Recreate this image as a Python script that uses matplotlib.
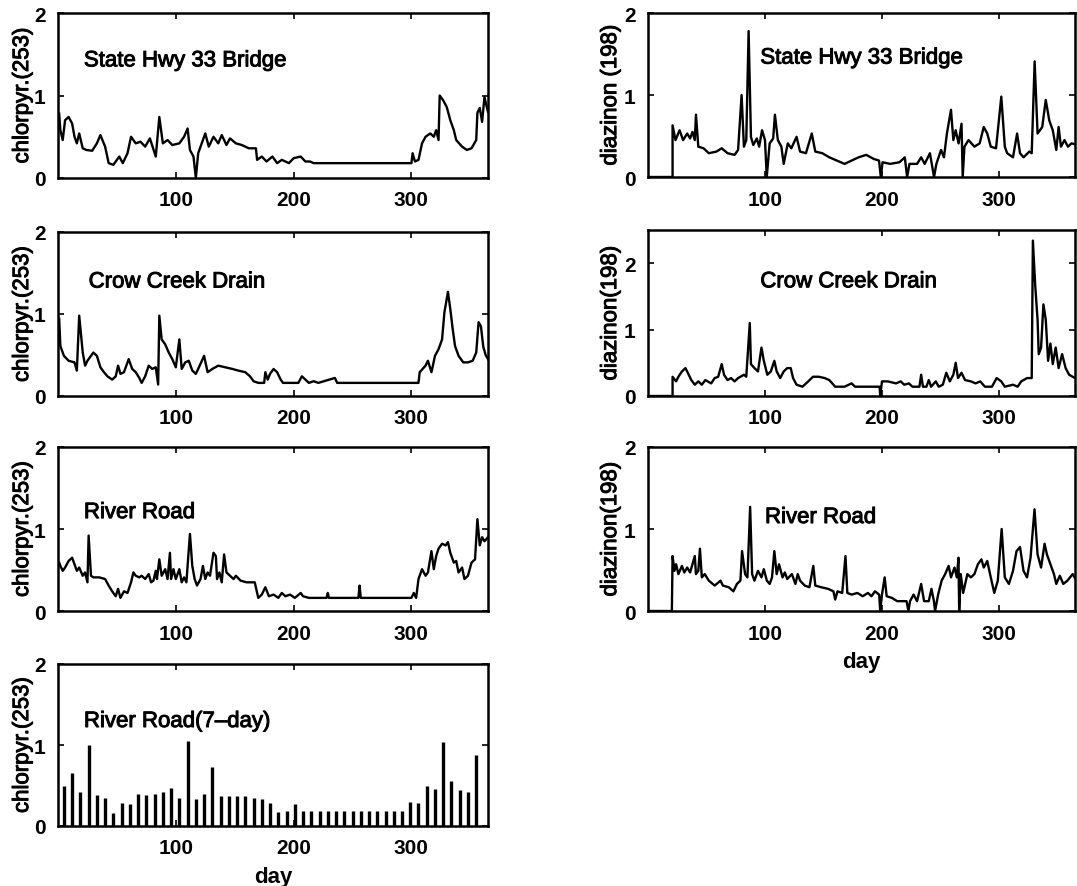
import matplotlib.pyplot as plt
import matplotlib.patheffects as pe

plt.rcParams['font.family'] = ['Liberation Sans', 'DejaVu Sans']

# chlorpyrifos, State Hwy 33 Bridge
hwy_chl_day = [1, 2, 4, 6, 9, 12, 14, 16, 18, 21,
               24, 29, 33, 36, 40, 43, 47, 52, 55, 59,
               62, 66, 70, 74, 78, 83, 86, 89, 93, 97,
               103, 107, 110, 112, 115, 117, 119, 122, 125, 128,
               132, 136, 139, 143, 146, 151, 156, 162, 168, 169,
               173, 177, 182, 186, 190, 196, 200, 206, 210, 214,
               217, 300, 301, 303, 306, 309, 312, 316, 319, 321,
               323, 324, 327, 330, 333, 336, 338, 343, 347, 351,
               355, 356, 358, 360, 362, 365]
hwy_chl_val = [.78, .58, .46, .70, .74, .66, .50, .42, .54, .36,
               .34, .33, .42, .52, .38, .18, .16, .26, .18, .30,
               .50, .42, .44, .38, .48, .26, .74, .42, .46, .40,
               .42, .50, .60, .34, .26, 0, .30, .42, .54, .38,
               .50, .42, .52, .40, .48, .42, .40, .36, .36, .22,
               .26, .20, .26, .18, .22, .18, .24, .26, .20, .20,
               .18, .18, .30, .20, .22, .42, .50, .54, .50, .58,
               .46, 1.0, .94, .86, .70, .58, .46, .38, .34, .36,
               .46, .79, .85, .68, .98, .80]

# diazinon, State Hwy 33 Bridge
hwy_dia_day = [0, 21, 21, 23.5, 27, 30, 33.5, 36, 38, 40,
               41, 43, 47.5, 52, 58.5, 63, 68, 74, 77, 80,
               82, 84, 86, 88, 90, 93, 95, 97.5, 100, 101.5,
               104, 107, 108.5, 111, 114, 116, 119.5, 122.5, 127, 130,
               135, 140, 143, 149, 155, 161.5, 168, 174, 180, 186.5,
               193, 197.5, 199, 200.5, 207, 215, 219.5, 221.5, 223.5, 230,
               233.5, 236.5, 241, 244.5, 246.5, 250.5, 253, 255.5, 259, 261,
               263, 265.5, 268, 269, 270.5, 274, 279, 283.5, 287, 290,
               293, 297.5, 302, 305, 307, 312, 315.5, 318, 321, 326,
               328, 330.5, 333, 337, 340, 343, 346, 349, 351, 353,
               356, 359, 362, 365]
hwy_dia_val = [0, 0, .63, .45, .57, .45, .53, .47, .55, .45,
               .76, .37, .35, .29, .31, .35, .29, .27, .33, 1.0,
               .37, .45, 1.78, .49, .39, .47, .37, .57, .45, 0,
               .41, .47, .76, .45, .37, .16, .41, .35, .49, .31,
               .29, .53, .31, .29, .24, .20, .16, .20, .24, .27,
               .22, .20, 0, .18, .16, .18, .24, 0, .16, .16,
               .24, .16, .29, 0, .16, .33, .24, .53, .82, .45,
               .57, .41, .65, 0, .37, .45, .37, .41, .61, .53,
               .37, .35, .98, .37, .29, .24, .53, .29, .24, .31,
               .29, 1.41, .53, .61, .94, .69, .57, .33, .61, .37,
               .45, .37, .41, .40]

# chlorpyrifos, Crow Creek Drain
crow_chl_day = [1, 2, 5, 9, 14, 16, 18, 21, 23, 25,
                28, 30, 33, 36, 39, 42, 46, 49, 51, 53,
                56, 60, 63, 66, 69, 71, 74, 77, 80, 83,
                85, 86, 88, 91, 94, 97, 100, 103, 105, 108,
                111, 114, 117, 119, 124, 127, 131, 136, 142, 148,
                153, 159, 163, 166, 170, 175, 176, 178, 180, 183,
                186, 189, 191, 204, 207, 210, 213, 217, 221, 235,
                237, 306, 307, 312, 314, 317, 320, 323, 326, 328,
                331, 333, 335, 337, 340, 344, 348, 352, 355, 357,
                359, 361, 363, 365]
crow_chl_val = [.94, .61, .49, .43, .41, .31, .98, .53, .37, .43,
                .49, .53, .49, .35, .29, .24, .20, .24, .37, .27,
                .29, .45, .33, .29, .22, .16, .24, .37, .33, .35,
                .14, .98, .69, .63, .53, .45, .35, .69, .33, .41,
                .43, .31, .27, .33, .49, .29, .33, .37, .35, .33,
                .31, .29, .24, .18, .16, .16, .29, .20, .27, .33,
                .29, .20, .16, .16, .24, .20, .16, .18, .16, .22,
                .16, .16, .29, .37, .43, .29, .49, .57, .69, 1.02,
                1.27, 1.06, .82, .61, .49, .41, .41, .43, .53, .90,
                .85, .60, .50, .45]

# diazinon, Crow Creek Drain
crow_dia_day = [0, 21, 21, 24, 26, 29, 32, 34, 37, 40,
                43, 46, 49, 54, 57, 60, 63, 65, 68, 71,
                74, 77, 82, 84, 87, 88, 91, 94, 97, 99,
                102, 105, 108, 110, 113, 116, 119, 122, 124, 127,
                132, 137, 141, 146, 151, 155, 160, 168, 174, 177,
                198, 198.5, 200, 205, 212, 216, 219, 223, 226, 232,
                233.5, 235, 238, 240, 242, 246, 248.5, 252, 255, 258,
                261, 263, 265, 268, 271, 276, 280, 284, 288, 294,
                298, 302, 305, 312, 316, 319, 324, 328, 329, 331,
                333, 334, 336, 338, 340, 342, 344, 346, 348.5, 351,
                354, 357, 360, 363, 365]
crow_dia_val = [0, 0, .29, .22, .29, .37, .42, .35, .24, .17,
                .22, .17, .24, .19, .27, .29, .48, .32, .24, .27,
                .22, .27, .32, .29, 1.10, .48, .42, .37, .73, .53,
                .32, .37, .53, .37, .27, .37, .42, .42, .27, .17,
                .14, .22, .29, .29, .27, .24, .14, .14, .19, .14,
                .14, 0, .22, .22, .19, .22, .17, .19, .14, .14,
                .32, .14, .14, .24, .14, .22, .14, .17, .35, .22,
                .32, .50, .27, .35, .24, .22, .19, .22, .14, .14,
                .27, .22, .14, .17, .14, .22, .27, .27, 2.34, 1.66,
                1.15, .63, .73, 1.38, 1.15, .53, .79, .48, .73, .42,
                .63, .42, .32, .29, .27]

# chlorpyrifos, River Road
river_chl_day = [1, 2, 4, 6, 9, 12, 14, 16, 18, 21,
                 23, 25, 26, 28, 30, 35, 40, 43, 46, 49,
                 51, 53, 56, 59, 62, 64, 66, 69, 71, 74,
                 77, 79, 81, 83, 84, 86, 88, 91, 93, 95,
                 96, 98, 100, 103, 105, 107, 109, 110, 112, 114,
                 116, 118, 121, 123, 125, 127, 129, 132, 134, 135,
                 137, 139, 141, 143, 146, 149, 151, 155, 160, 167,
                 170, 173, 176, 179, 183, 187, 190, 193, 197, 201,
                 206, 208, 213, 228, 229, 230, 255, 256, 257, 300,
                 302, 304, 306, 309, 312, 314, 317, 319, 321, 323,
                 326, 329, 331, 333, 336, 338, 340, 343, 345, 348,
                 351, 354, 356, 358, 360, 362, 365]
river_chl_val = [.59, .55, .49, .53, .61, .65, .57, .49, .53, .43,
                 .47, .35, .92, .43, .41, .41, .39, .31, .24, .18,
                 .27, .16, .24, .22, .35, .47, .43, .41, .43, .39,
                 .45, .35, .37, .49, .39, .63, .43, .51, .39, .71,
                 .39, .51, .39, .51, .35, .41, .35, .55, .94, .55,
                 .39, .31, .39, .55, .39, .47, .43, .71, .67, .39,
                 .47, .35, .69, .47, .43, .39, .43, .37, .35, .35,
                 .16, .20, .29, .18, .20, .16, .22, .18, .20, .16,
                 .22, .18, .16, .16, .22, .16, .16, .31, .16, .16,
                 .22, .16, .39, .51, .43, .47, .73, .51, .67, .76,
                 .82, .80, .84, .71, .59, .61, .47, .53, .39, .43,
                 .59, .63, 1.12, .80, .90, .85, .90]

# diazinon, River Road
river_dia_day = [0, 20.4, 21, 22.6, 24, 26, 29, 31, 33.5, 36,
                 38, 40, 41, 43, 44.4, 46, 48.5, 52, 57, 62,
                 64, 69, 73, 76, 79, 80.4, 83, 85, 87.3, 89,
                 91, 94, 97, 99, 101.6, 104, 106, 108, 110, 112,
                 115, 117, 119, 123, 126, 128, 130, 134, 138, 141.3,
                 143, 148, 154, 158.5, 160, 162, 166, 168.8, 170.4, 174,
                 179, 183.5, 188, 191, 194, 197.6, 198.5, 200, 202.3, 204,
                 208.5, 213, 221, 222.6, 224, 227, 230, 233.5, 236, 240,
                 242.3, 244.4, 245.4, 248, 251, 254, 257, 259, 262, 264,
                 265.4, 266, 267.3, 269.4, 273, 276, 279, 282, 285, 287,
                 290, 293, 296, 299, 302.3, 305, 308.5, 312, 315, 318,
                 321, 324, 327, 330.4, 333, 336, 339, 341, 344, 347,
                 349, 352, 355, 358.5, 363, 365]
river_dia_val = [0, 0, .67, .49, .57, .45, .55, .47, .53, .47,
                 .57, .67, .45, .49, .76, .41, .45, .37, .31, .37,
                 .31, .29, .24, .33, .37, .73, .45, .41, 1.27, .45,
                 .37, .49, .41, .51, .37, .33, .41, .73, .45, .57,
                 .41, .47, .39, .45, .33, .45, .37, .31, .29, .55,
                 .31, .29, .27, .24, .14, .24, .22, .67, .22, .20,
                 .22, .18, .22, .18, .24, .20, 0, .20, .41, .18,
                 .16, .12, .12, 0, .12, .20, .12, .33, .12, .12,
                 .27, .12, 0, .20, .37, .45, .55, .41, .53, .41,
                 .65, 0, .45, .22, .45, .41, .45, .57, .63, .53,
                 .61, .41, .22, .37, 1.0, .41, .33, .49, .73, .78,
                 .49, .41, .65, 1.24, .69, .53, .82, .69, .57, .45,
                 .33, .43, .33, .37, .45, .40]

# chlorpyrifos, River Road, one sample every 7 days
week_day = [5, 12, 19, 26, 33, 40, 47, 54, 61, 68,
            75, 82, 89, 96, 103, 110, 117, 124, 131, 138,
            145, 152, 159, 166, 173, 180, 187, 194, 201, 208,
            215, 222, 229, 236, 243, 250, 257, 264, 271, 278,
            285, 292, 299, 306, 313, 320, 327, 334, 341, 348,
            355]
week_val = [.50, .65, .42, 1.0, .38, .34, .16, .29, .27, .40,
            .38, .40, .42, .47, .35, 1.05, .33, .40, .73, .37,
            .37, .37, .37, .35, .33, .28, .17, .18, .27, .19,
            .18, .18, .18, .18, .18, .18, .18, .18, .18, .18,
            .18, .18, .30, .29, .49, .46, 1.04, .55, .45, .42,
            .88]

W, H = 1077, 887
LEFT = (58, 430)
RIGHT = (648, 427)
heavy = [pe.withStroke(linewidth=0.7, foreground='black')]


def make_axes(fig, col, top, bottom):
    x0, w = col
    return fig.add_axes([x0 / W, 1 - bottom / H, w / W, (bottom - top) / H])


def style(ax, ylabel, ymax, labx):
    ax.set_xlim(0, 365)
    ax.set_ylim(0, ymax)
    ax.set_xticks([100, 200, 300])
    ax.set_yticks([0, 1, 2])
    ax.tick_params(direction='in', length=4, width=1.2, top=True, right=True,
                   labelsize=15, pad=9)
    for t in ax.get_xticklabels() + ax.get_yticklabels():
        t.set_fontweight('bold')
    for s in ax.spines.values():
        s.set_linewidth(1.8)
    ax.set_ylabel(ylabel, fontsize=16, path_effects=heavy)
    ax.yaxis.set_label_coords(labx, 0.5)


def note(ax, x, y, s):
    ax.text(x, y, s, fontsize=16, va='center', path_effects=heavy)


fig = plt.figure(figsize=(W / 100, H / 100), dpi=100)
lw = 1.7

ax = make_axes(fig, LEFT, 14, 179)
ax.plot(hwy_chl_day, hwy_chl_val, color='black', lw=lw)
note(ax, 22, 1.42, 'State Hwy 33 Bridge')
style(ax, 'chlorpyr.(253)', 2, -0.058)

ax = make_axes(fig, RIGHT, 14, 178)
ax.plot(hwy_dia_day, hwy_dia_val, color='black', lw=lw)
note(ax, 96, 1.45, 'State Hwy 33 Bridge')
style(ax, 'diazinon (198)', 2, -0.063)

ax = make_axes(fig, LEFT, 233, 397)
ax.plot(crow_chl_day, crow_chl_val, color='black', lw=lw)
note(ax, 26, 1.39, 'Crow Creek Drain')
style(ax, 'chlorpyr.(253)', 2, -0.058)

ax = make_axes(fig, RIGHT, 231, 397)
ax.plot(crow_dia_day, crow_dia_val, color='black', lw=lw)
note(ax, 96, 1.72, 'Crow Creek Drain')
style(ax, 'diazinon(198)', 2.5, -0.063)

ax = make_axes(fig, LEFT, 448, 612)
ax.plot(river_chl_day, river_chl_val, color='black', lw=lw)
note(ax, 22, 1.2, 'River Road')
style(ax, 'chlorpyr.(253)', 2, -0.058)

ax = make_axes(fig, RIGHT, 448, 612)
ax.plot(river_dia_day, river_dia_val, color='black', lw=lw)
note(ax, 100, 1.14, 'River Road')
style(ax, 'diazinon(198)', 2, -0.063)
ax.set_xlabel('day', fontsize=16, fontweight='bold', labelpad=6)

ax = make_axes(fig, LEFT, 665, 827)
ax.vlines(week_day, 0, week_val, color='black', lw=2.4)
note(ax, 22, 1.29, 'River Road(7\u2013day)')
style(ax, 'chlorpyr.(253)', 2, -0.058)
ax.set_xlabel('day', fontsize=16, fontweight='bold', labelpad=6)

fig.savefig('out.png', dpi=100)
